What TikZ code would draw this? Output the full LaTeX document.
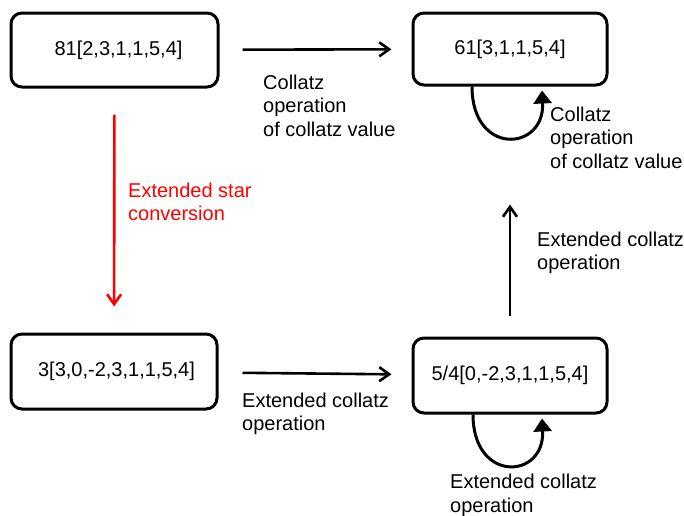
\documentclass[tikz,border=0pt]{standalone}
\usepackage{fontspec}
\setmainfont{Liberation Sans}
\usetikzlibrary{arrows.meta,calc}
\definecolor{convred}{RGB}{255,0,0}
\begin{document}
\begin{tikzpicture}[x=1pt,y=-1pt,
  every node/.style={font=\fontsize{20}{23.5}\selectfont},
  statebox/.style={draw=black,line width=3pt,rounded corners=11pt,inner sep=0pt},
  lbl/.style={anchor=north west,align=left,inner sep=0pt},
  arr/.style={line width=2.6pt,-{Straight Barb[length=10pt,width=14pt,line width=2.6pt]}},
  loopar/.style={line width=3pt,-{Triangle[length=13pt,width=18pt]}}]
\useasboundingbox (0,0) rectangle (684,515);
\node[statebox,minimum width=207pt,minimum height=74pt] (b1) at (114.5,50) {\hspace{8pt}81[2,3,1,1,5,4]};
\node[statebox,minimum width=194pt,minimum height=72pt] (b2) at (510,49) {61[3,1,1,5,4]};
\node[statebox,minimum width=206pt,minimum height=75pt] (b3) at (114,371.5) {\hspace{5pt}3[3,0,-2,3,1,1,5,4]};
\node[statebox,minimum width=194pt,minimum height=75pt] (b4) at (510,375.5) {5/4[0,-2,3,1,1,5,4]};

\draw[arr,shorten <=23pt,shorten >=20pt] (b1) -- (b2);
\draw[arr,convred,shorten <=26pt,shorten >=26pt] (b1) -- (b3);
\draw[arr,shorten <=24pt,shorten >=20pt] (b3) -- (b4);
\draw[arr,shorten <=21pt,shorten >=118pt] (b4) -- (b2);

\coordinate (l1s) at ($(b2.south)+(-38,0)$);
\coordinate (l1e) at ($(b2.south)+(32,4)$);
\draw[loopar] (l1s) .. controls ($(l1s)+(0,70)$) and ($(l1e)+(3,61)$) .. (l1e);
\coordinate (l2s) at ($(b4.south)+(-37,0)$);
\coordinate (l2e) at ($(b4.south)+(32,4)$);
\draw[loopar] (l2s) .. controls ($(l2s)+(0,69)$) and ($(l2e)+(3,61)$) .. (l2e);

\node[lbl] (t1) at (263,74.5) {Collatz\\operation\\of collatz value};
\node[lbl,text=convred] (t2) at (128,182.5) {Extended star\\conversion};
\node[lbl] (t3) at (537,231.5) {Extended collatz\\operation};
\node[lbl] (t4) at (242,392.5) {Extended collatz\\operation};
\node[lbl] (t5) at (550,106.5) {Collatz\\operation\\of collatz value};
\node[lbl] (t6) at (450,474) {Extended collatz\\operation};
\end{tikzpicture}
\end{document}
